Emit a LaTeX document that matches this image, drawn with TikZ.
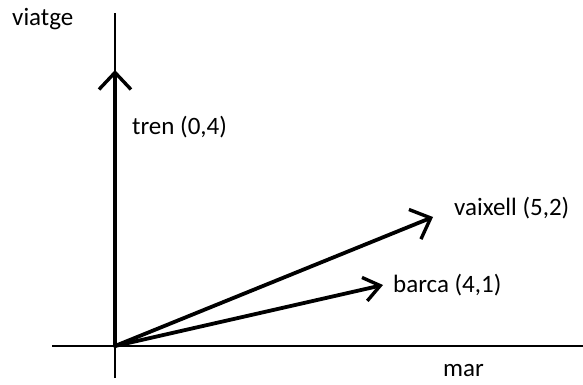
\documentclass[tikz,border=0pt]{standalone}
\usepackage{fontspec}
\setmainfont{Carlito}
\usetikzlibrary{arrows.meta}
\begin{document}
\begin{tikzpicture}[x=1pt,y=-1pt,
  axis/.style={line width=2pt},
  vec/.style={line width=3.8pt, line cap=round, -{Straight Barb[length={17pt 0},width={32pt 0},line width=3.4pt]}},
  lbl/.style={anchor=base west, inner sep=0pt, font=\fontsize{25}{29}\selectfont}]
\useasboundingbox (0,0) rectangle (583,385);
\coordinate (O) at (115,346);
\coordinate (ytop) at (115,13);
\coordinate (ybot) at (115,378);
\coordinate (xl) at (52,346);
\coordinate (xr) at (583,346);
\coordinate (T) at (115,70);
\coordinate (V) at (433,217);
\coordinate (B) at (383,285);
\draw[axis] (ybot) -- (ytop);
\draw[axis] (xl) -- (xr);
\draw[vec] (O) -- (T);
\draw[vec] (O) -- (V);
\draw[vec,-{Straight Barb[length={16pt 0},width={24pt 0},line width=3.4pt]}] (O) -- (B);
\node[lbl] (viatge) at (12,26) {viatge};
\node[lbl] (tren) at (132,134) {tren (0,4)};
\node[lbl] (vaixell) at (454,215) {vaixell (5,2)};
\node[lbl] (barca) at (393,292) {barca (4,1)};
\node[lbl] (mar) at (443,376) {mar};
\end{tikzpicture}
\end{document}
